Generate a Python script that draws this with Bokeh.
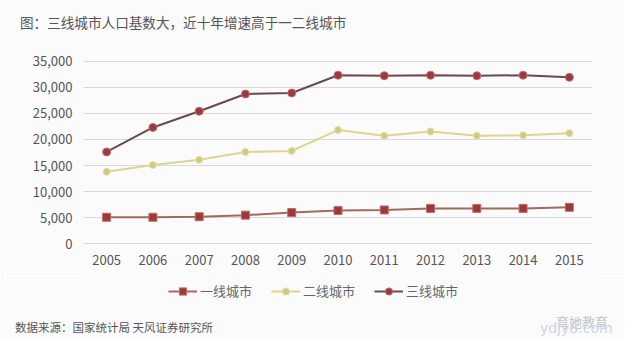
from bokeh.plotting import figure
from bokeh.layouts import column
from bokeh.models import Range1d, NumeralTickFormatter, Legend, LegendItem, FixedTicker, Div
from bokeh.embed import file_html
from bokeh.resources import INLINE

years = [2005, 2006, 2007, 2008, 2009, 2010, 2011, 2012, 2013, 2014, 2015]
tier1 = [5100, 5100, 5200, 5500, 6000, 6400, 6500, 6800, 6800, 6800, 7000]
tier2 = [13800, 15100, 16100, 17600, 17800, 21800, 20700, 21500, 20700, 20800, 21200]
tier3 = [17600, 22300, 25400, 28700, 28900, 32300, 32200, 32300, 32200, 32300, 31900]
y_ticks = [0, 5000, 10000, 15000, 20000, 25000, 30000, 35000]
series_names = ["一线城市", "二线城市", "三线城市"]
title_text = "图：三线城市人口基数大，近十年增速高于一二线城市"
source_text = "数据来源：国家统计局 天风证券研究所"
watermark_cn = "育她教育"
watermark_en = "ydjy8.com"

CJK = "Noto Sans CJK SC"
BG = "#fbfbfb"
W = 624

styles = [
    dict(line_color="#a06a5e", marker="square", size=8, fill_color="#9a3a3a", mline="#c56a66"),
    dict(line_color="#dcd68c", marker="circle", size=7, fill_color="#cfca88", mline="#e6e0a0"),
    dict(line_color="#6a4a4e", marker="circle", size=8, fill_color="#9a3a40", mline="#c86a6a"),
]
series = [tier1, tier2, tier3]

title_div = Div(
    text=f'<div style="font-family:\'{CJK}\';font-size:13.6px;color:#555555;line-height:20px;'
         f'padding:12px 0 0 20px;white-space:nowrap;">{title_text}</div>',
    width=W, height=34, styles={"background-color": BG, "margin": "0"})

p = figure(width=W, height=242, output_backend="svg", toolbar_location=None,
           x_range=Range1d(2004.5, 2015.5), y_range=Range1d(-500, 35500),
           min_border_left=83, min_border_right=32, min_border_top=24, min_border_bottom=30,
           background_fill_color=BG, border_fill_color=BG)
p.outline_line_color = None
p.xaxis.ticker = FixedTicker(ticks=years)
p.yaxis.ticker = FixedTicker(ticks=y_ticks)
p.yaxis.formatter = NumeralTickFormatter(format="0,0")
for ax in (p.xaxis[0], p.yaxis[0]):
    ax.axis_line_color = None
    ax.major_tick_line_color = None
    ax.minor_tick_line_color = None
    ax.major_label_text_font = CJK
    ax.major_label_text_font_size = "13px"
    ax.major_label_text_color = "#555555"
p.xaxis.major_label_standoff = 2
p.yaxis.major_label_standoff = 5
p.xgrid.grid_line_color = None
p.ygrid.grid_line_color = "#d9d9d9"
p.ygrid.grid_line_width = 1

for vals, st in zip(series, styles):
    p.line(years, vals, line_color=st["line_color"], line_width=2)
    p.scatter(years, vals, marker=st["marker"], size=st["size"], fill_color=st["fill_color"],
              line_color=st["mline"], line_width=1)

# legend strip: same series drawn outside its visible range, only the legend shows
pl = figure(width=W, height=30, output_backend="svg", toolbar_location=None,
            x_range=Range1d(0, 1), y_range=Range1d(0, 1),
            x_axis_type=None, y_axis_type=None,
            min_border_left=0, min_border_right=0, min_border_top=0, min_border_bottom=0,
            background_fill_color=BG, border_fill_color=BG)
pl.outline_line_color = None
pl.grid.visible = False
items = []
for name, vals, st in zip(series_names, series, styles):
    rl = pl.line(years, vals, line_color=st["line_color"], line_width=2)
    rm = pl.scatter(years, vals, marker=st["marker"], size=st["size"], fill_color=st["fill_color"],
                    line_color=st["mline"], line_width=1)
    items.append(LegendItem(label=name, renderers=[rl, rm]))
legend = Legend(items=items, orientation="horizontal", location=(85, 6))
legend.background_fill_alpha = 0
legend.border_line_color = None
legend.padding = 0
legend.margin = 0
legend.glyph_width = 29
legend.glyph_height = 18
legend.label_standoff = 3
legend.spacing = 19
legend.label_text_font = CJK
legend.label_text_font_size = "13px"
legend.label_text_color = "#666666"
pl.add_layout(legend, "center")

bottom_div = Div(
    text=f'<div style="position:relative;width:{W}px;height:34px;">'
         f'<span style="position:absolute;left:15px;top:12px;font-family:\'{CJK}\';font-size:11.5px;'
         f'color:#555555;line-height:18px;white-space:nowrap;">{source_text}</span>'
         f'<span style="position:absolute;left:556px;top:8px;font-family:\'{CJK}\';font-size:13px;'
         f'color:#c4c4c4;line-height:16px;white-space:nowrap;">{watermark_cn}</span>'
         f'<span style="position:absolute;left:540px;top:13px;font-family:\'DejaVu Sans\';font-size:14px;'
         f'color:#ccd6e0;line-height:18px;white-space:nowrap;">{watermark_en}</span>'
         f'</div>',
    width=W, height=34, styles={"background-color": BG, "margin": "0"})

layout = column(title_div, p, pl, bottom_div, spacing=0)
open("out.html", "w").write(file_html(layout, INLINE))
